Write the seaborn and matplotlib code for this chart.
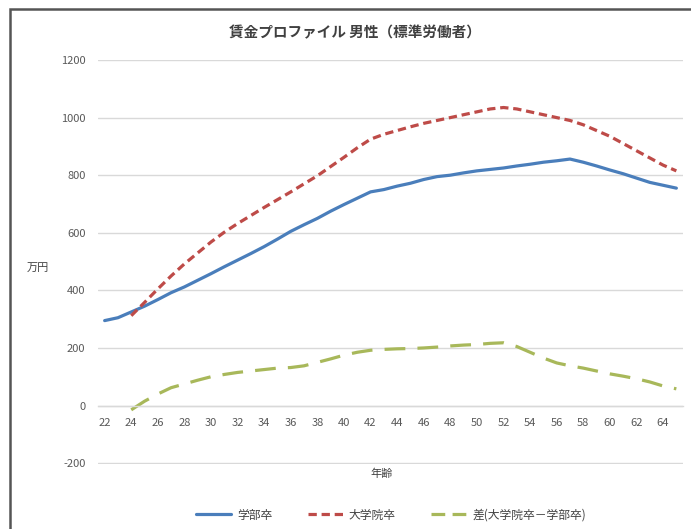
import matplotlib
matplotlib.use("Agg")
import matplotlib.pyplot as plt
import seaborn as sns
import pandas as pd
from matplotlib.lines import Line2D
from matplotlib.patches import Rectangle

# ---- data ----
ages = list(range(22, 66))
undergrad = [295, 305, 325, 345, 368, 392, 412, 435, 458, 482,
             505, 528, 552, 578, 605, 628, 650, 675, 698, 720,
             742, 750, 762, 772, 785, 795, 800, 808, 815, 820,
             825, 832, 838, 845, 850, 856, 845, 832, 818, 805,
             790, 775, 765, 755]
grad_ages = list(range(24, 66))
graduate = [312, 358, 405, 450, 492, 530, 568, 602, 632, 660,
            688, 715, 742, 770, 798, 830, 862, 895, 925, 942,
            955, 968, 980, 990, 1000, 1010, 1020, 1030, 1035, 1030,
            1020, 1010, 1000, 990, 975, 955, 935, 910, 885, 860,
            835, 815]
difference = [-15, 15, 40, 62, 75, 88, 100, 108, 115, 120,
              125, 130, 132, 138, 150, 162, 175, 185, 192, 195,
              197, 198, 200, 203, 207, 210, 212, 216, 218, 205,
              185, 165, 148, 138, 130, 120, 110, 102, 93, 82,
              68, 58]
series_names = ["学部卒", "大学院卒", "差(大学院卒－学部卒)"]
x_ticks = list(range(22, 65, 2))
y_ticks = list(range(-200, 1201, 200))
title = "賃金プロファイル 男性（標準労働者）"

df = pd.concat([
    pd.DataFrame({"age": ages, "value": undergrad, "series": series_names[0]}),
    pd.DataFrame({"age": grad_ages, "value": graduate, "series": series_names[1]}),
    pd.DataFrame({"age": grad_ages, "value": difference, "series": series_names[2]}),
], ignore_index=True)

colors = {series_names[0]: "#4a7ebb", series_names[1]: "#be4b48", series_names[2]: "#a8b85a"}
dashes = {series_names[0]: "", series_names[1]: (2.6, 1.5), series_names[2]: (6.5, 3.8)}
legend_dashes = [None, (2.6, 1.5), (4.3, 2.3)]

sns.set_theme(style="white")
plt.rcParams["font.family"] = ["Noto Sans CJK JP", "DejaVu Sans"]
plt.rcParams["axes.unicode_minus"] = False

W, H = 691, 529
fig = plt.figure(figsize=(W / 100, H / 100), dpi=100)
ax = fig.add_axes([98 / W, 1 - 464 / H, (683 - 98) / W, (464 - 60) / H])

sns.lineplot(data=df, x="age", y="value", hue="series", style="series",
             palette=colors, dashes=dashes, linewidth=2.3, ax=ax,
             legend=False, sort=False)

ax.set_xlim(21.5, 65.5)
ax.set_ylim(-203, 1200)
ax.set_xticks(x_ticks)
ax.set_yticks(y_ticks)
ax.yaxis.grid(True, color="#d9d9d9", lw=1)
ax.xaxis.grid(False)
for s in ["left", "right", "top"]:
    ax.spines[s].set_visible(False)
ax.spines["bottom"].set_position(("data", 0))
ax.spines["bottom"].set_color("#d9d9d9")
ax.spines["bottom"].set_linewidth(1)
ax.tick_params(axis="x", length=0, pad=9, labelsize=8, labelcolor="#595959")
ax.tick_params(axis="y", length=0, pad=9, labelsize=8, labelcolor="#595959")
ax.set_xlabel("")
ax.set_ylabel("")

fig.text(355 / W, 1 - 32 / H, title, ha="center", va="center",
         fontsize=10.5, fontweight="bold", color="#404040")
fig.text(38 / W, 1 - 268 / H, "万円", ha="center", va="center",
         fontsize=8, color="#404040")
fig.text(382 / W, 1 - 474 / H, "年齢", ha="center", va="center",
         fontsize=8, color="#404040")

handles = []
for n, d in zip(series_names, legend_dashes):
    h = Line2D([0], [0], color=colors[n], lw=2.3)
    if d is not None:
        h.set_dashes(d)
    handles.append(h)
fig.legend(handles, series_names, loc="center", bbox_to_anchor=(391 / W, 1 - 515 / H),
           ncol=3, frameon=False, fontsize=8.5, handlelength=3, columnspacing=3,
           handletextpad=0.5, labelcolor="#404040")

fig.patches.append(Rectangle((10 / W, -0.05), 1.1, 1 - 9 / H + 0.05, transform=fig.transFigure,
                             fill=False, edgecolor="#555555", lw=1.8))

fig.savefig("out.png", dpi=100)
